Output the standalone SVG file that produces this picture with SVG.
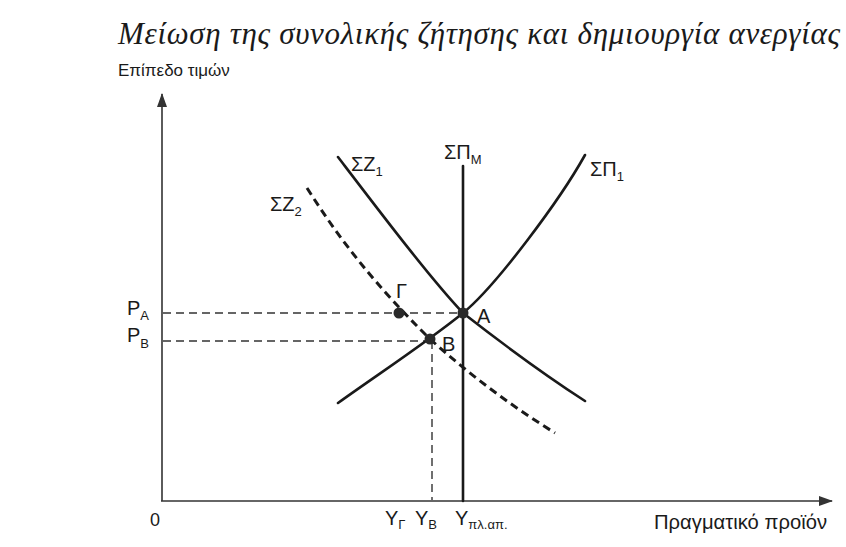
<svg xmlns="http://www.w3.org/2000/svg" width="846" height="547" viewBox="0 0 846 547">
<style>
text{font-family:"Liberation Sans",Arial,sans-serif;fill:#1a1a1a}
.title{font-family:"Liberation Serif","Times New Roman",serif;font-style:italic;font-size:31px}
.lab{font-size:20px}
.sub{font-size:13px}
.axis{stroke:#333;stroke-width:1.6;fill:none}
.curve{stroke:#1a1a1a;stroke-width:2.6;fill:none;stroke-linecap:round}
.dash2{stroke:#1a1a1a;stroke-width:3;fill:none;stroke-dasharray:8 5}
.guide{stroke:#333;stroke-width:1.4;fill:none;stroke-dasharray:8 5}
.dot{fill:#2a2a2a}
</style>
<defs>
<marker id="arr" markerWidth="14" markerHeight="10" refX="13" refY="5" orient="auto" markerUnits="userSpaceOnUse">
<path d="M0,0 L14,5 L0,10 Z" fill="#333"/>
</marker>
</defs>
<rect width="846" height="547" fill="#fff"/>
<text class="title" x="118" y="44" textLength="722" lengthAdjust="spacing">Μείωση της συνολικής ζήτησης και δημιουργία ανεργίας</text>
<g id="connectors">
<line id="y-axis" class="axis" x1="162" y1="501" x2="162" y2="94" marker-end="url(#arr)"/>
<line id="x-axis" class="axis" x1="161" y1="501" x2="832" y2="501" marker-end="url(#arr)"/>
<line class="guide" x1="163" y1="313" x2="462" y2="313"/>
<line class="guide" x1="163" y1="341" x2="430" y2="341"/>
<line class="guide" x1="432" y1="341" x2="432" y2="500"/>
</g>
<g id="axis-labels">
<text x="118" y="76" style="font-size:17px">Επίπεδο τιμών</text>
<text x="150" y="526" style="font-size:18px">0</text>
<text x="654" y="529" style="font-size:20px" textLength="173" lengthAdjust="spacingAndGlyphs">Πραγματικό προϊόν</text>
</g>
<g id="SPM">
<line class="curve" x1="463" y1="166" x2="463" y2="501" stroke-linecap="butt"/>
<text class="lab" x="444" y="159">ΣΠ<tspan class="sub" dy="5">Μ</tspan></text>
</g>
<g id="SZ1">
<path class="curve" d="M338,157 C380,212 430,278 463,313 C495,338 545,375 585,401"/>
<text class="lab" x="351" y="171">ΣΖ<tspan class="sub" dy="5">1</tspan></text>
</g>
<g id="SP1">
<path class="curve" d="M338,403 C380,373 430,340 463,313 C496,286 560,200 585,155"/>
<text class="lab" x="590" y="176">ΣΠ<tspan class="sub" dy="5">1</tspan></text>
</g>
<g id="SZ2">
<path class="dash2" d="M307,188 C340,240 375,285 430,339 C470,375 510,405 555,433"/>
<text class="lab" x="270" y="211">ΣΖ<tspan class="sub" dy="5">2</tspan></text>
</g>
<g id="A">
<circle class="dot" cx="463" cy="313" r="5.5"/>
<text class="lab" x="477" y="323">A</text>
</g>
<g id="B">
<circle class="dot" cx="430" cy="339" r="5.5"/>
<text class="lab" x="442" y="351">B</text>
</g>
<g id="G">
<circle class="dot" cx="399" cy="313" r="5.5"/>
<text class="lab" x="396" y="298">Γ</text>
</g>
<g id="price-labels">
<text class="lab" x="127" y="315">P<tspan class="sub" dy="5">A</tspan></text>
<text class="lab" x="127" y="342">P<tspan class="sub" dy="6">B</tspan></text>
</g>
<g id="output-labels">
<text class="lab" x="385" y="525">Y<tspan class="sub" dy="4">Γ</tspan></text>
<text class="lab" x="415" y="525">Y<tspan class="sub" dy="4">B</tspan></text>
<text class="lab" x="455" y="525">Y<tspan class="sub" dy="4">πλ.απ.</tspan></text>
</g>
</svg>
